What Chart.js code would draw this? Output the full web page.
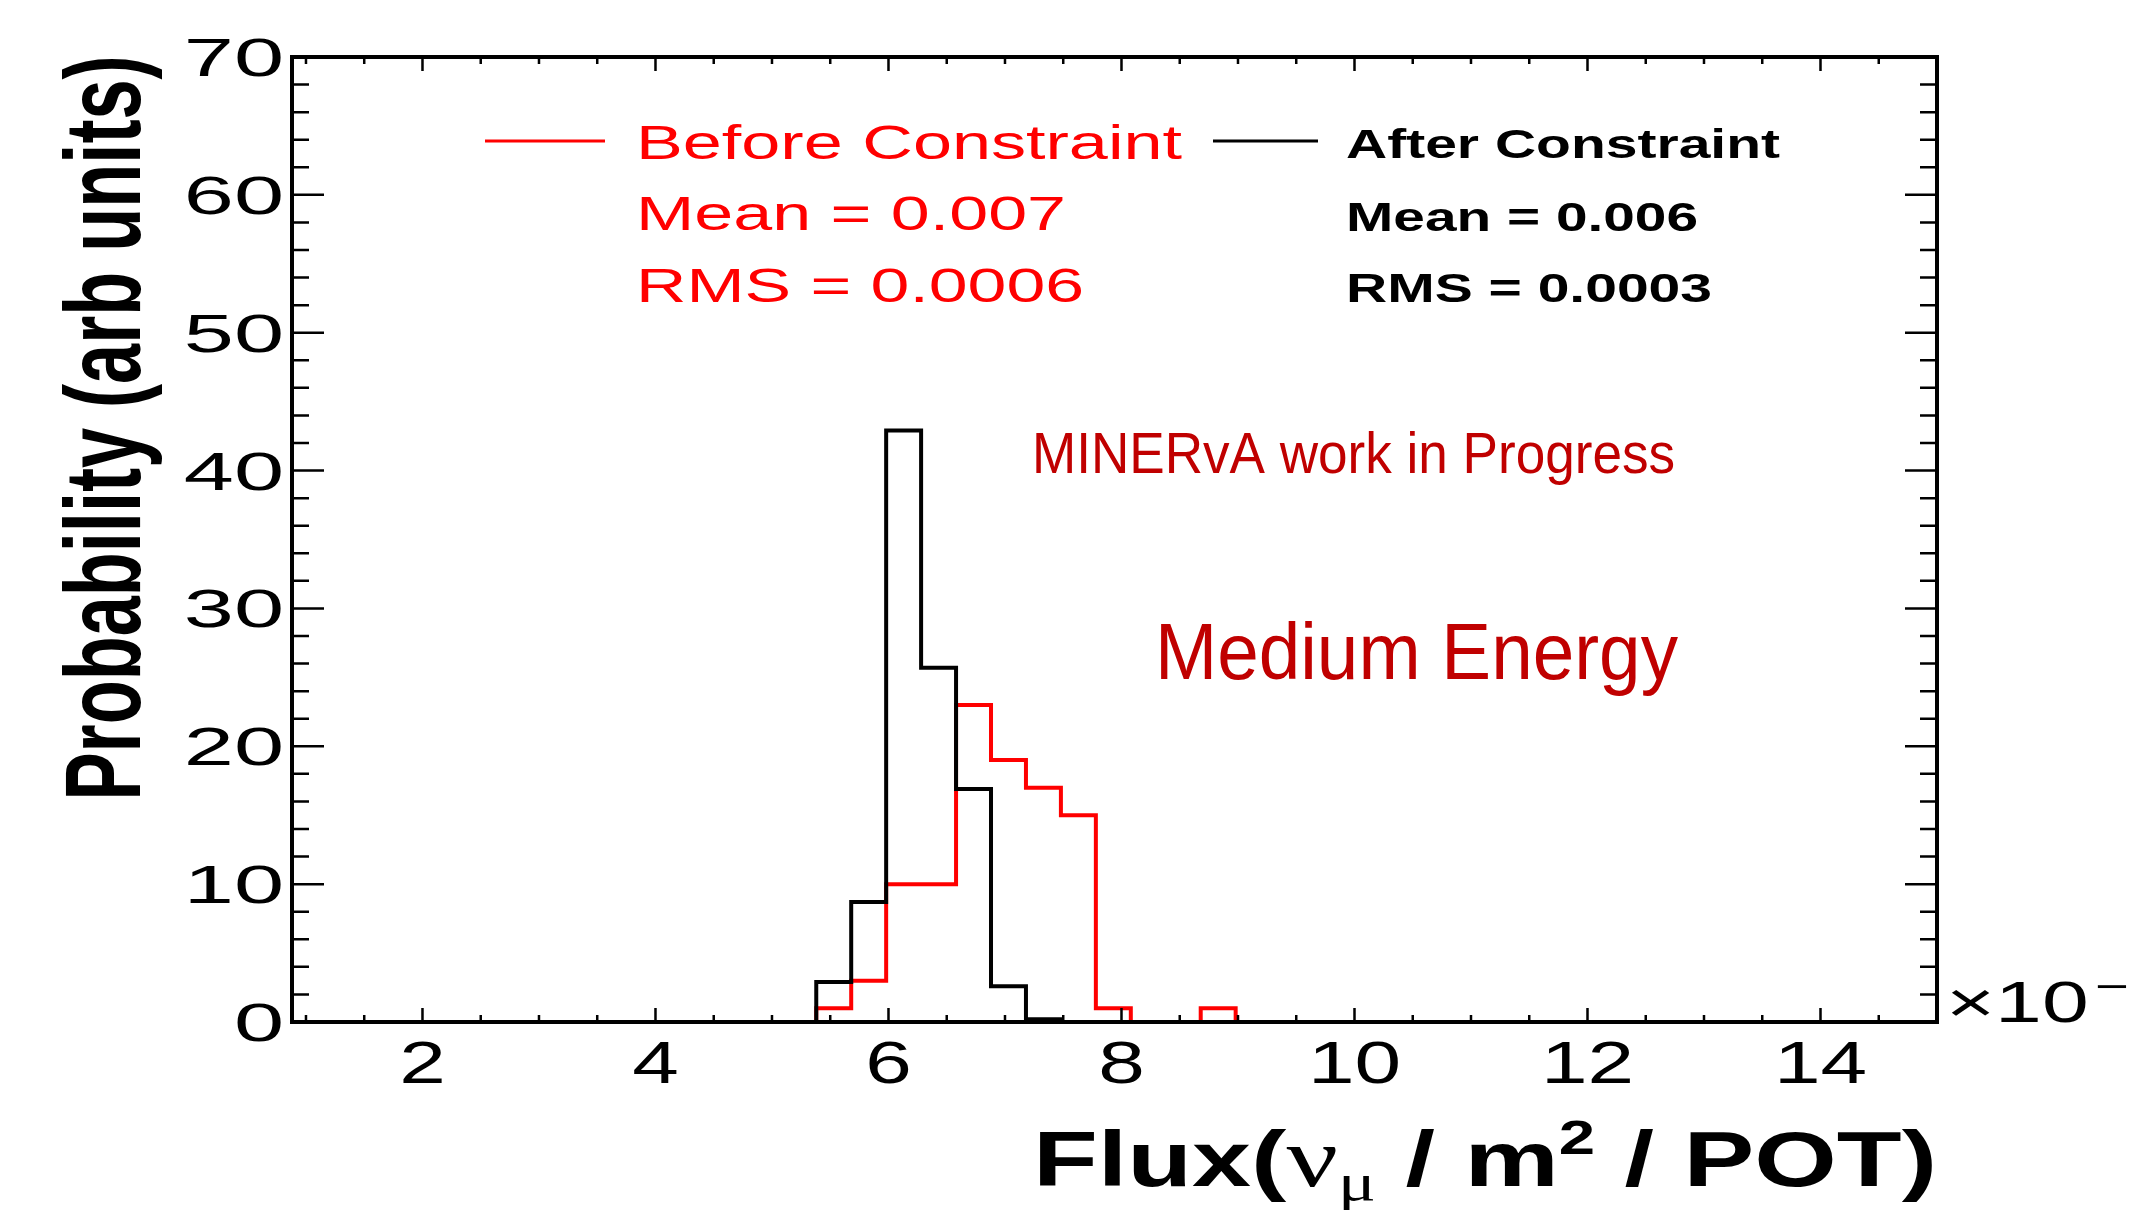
<!DOCTYPE html>
<html>
<head>
<meta charset="utf-8">
<title>Flux before / after constraint</title>
<script src="https://cdn.jsdelivr.net/npm/chart.js@4.4.0/dist/chart.umd.min.js"></script>
<style>
  html, body { margin: 0; padding: 0; background: #fff; }
  canvas { display: block; }
</style>
</head>
<body>
<canvas id="fluxChart" width="2130" height="1210"></canvas>
<script>
// Flux histograms (x10^-3 nu_mu / m^2 / POT), medium energy

// bin edges, the last one closes the last bin
const binEdges = [5.38, 5.68, 5.98, 6.28, 6.58, 6.88, 7.18, 7.48, 7.78, 8.08, 8.38, 8.68, 8.98];
const beforeValues = [1, 3, 10, 10, 23, 19, 17, 15, 1, 0, 0, 1];
const afterValues = [2.9, 8.7, 42.9, 25.7, 16.9, 2.6, 0.2, 0, 0, 0, 0, 0];

const xRange = [0.88, 15];
const yRange = [0, 70];
const xTickLabels = [2, 4, 6, 8, 10, 12, 14];
const yTickLabels = [0, 10, 20, 30, 40, 50, 60, 70];

const legendLabels = ['Before Constraint', 'After Constraint'];
const meanLabels = ['Mean = 0.007', 'Mean = 0.006'];
const rmsLabels = ['RMS = 0.0006', 'RMS = 0.0003'];
const notes = ['MINERvA work in Progress', 'Medium Energy'];

// step outline: each edge carries the value of the bin that starts there
function histPoints(values) {
    const pts = [{ x: binEdges[0], y: 0 }];
    values.forEach((v, i) => pts.push({ x: binEdges[i], y: v }));
    pts.push({ x: binEdges[binEdges.length - 1], y: 0 });
    return pts;
}

// text is stretched sideways like the original picture
function drawText(ctx, str, x, y, font, color, sx, align) {
    ctx.save();
    ctx.font = font;
    ctx.fillStyle = color;
    ctx.textAlign = align || 'left';
    ctx.textBaseline = 'alphabetic';
    ctx.translate(x, y);
    ctx.scale(sx, 1);
    ctx.fillText(str, 0, 0);
    ctx.restore();
}

function fitText(ctx, str, x, y, font, color, width) {
    ctx.font = font;
    const sx = width / ctx.measureText(str).width;
    drawText(ctx, str, x, y, font, color, sx, 'left');
}

const rootFrame = {
    id: 'rootFrame',
    afterDatasetsDraw(chart) {
        const { ctx, chartArea: a, scales: { x, y } } = chart;
        ctx.save();
        ctx.strokeStyle = '#000';
        ctx.lineWidth = 2.5;
        ctx.beginPath();
        for (let v = 1; v < xRange[1]; v += 0.5) {
            const px = x.getPixelForValue(v);
            const len = xTickLabels.includes(v) ? 14 : 7;
            ctx.moveTo(px, a.bottom); ctx.lineTo(px, a.bottom - len);
            ctx.moveTo(px, a.top); ctx.lineTo(px, a.top + len);
        }
        for (let v = 2; v < yRange[1]; v += 2) {
            const py = y.getPixelForValue(v);
            const len = yTickLabels.includes(v) ? 32 : 17;
            ctx.moveTo(a.left, py); ctx.lineTo(a.left + len, py);
            ctx.moveTo(a.right, py); ctx.lineTo(a.right - len, py);
        }
        ctx.stroke();
        ctx.lineWidth = 4;
        ctx.strokeRect(a.left, a.top, a.right - a.left, a.bottom - a.top);
        ctx.restore();
    },
    afterDraw(chart) {
        const { ctx, chartArea: a, scales: { x, y } } = chart;
        const sans = '"Liberation Sans", Arial, sans-serif';
        const serif = '"Liberation Serif", "Times New Roman", serif';

        // tick labels
        yTickLabels.forEach(v => {
            drawText(ctx, String(v), 284, y.getPixelForValue(v) + 19, '53px ' + sans, '#000', 1.7, 'right');
        });
        xTickLabels.forEach(v => {
            drawText(ctx, String(v), x.getPixelForValue(v), 1083, '59px ' + sans, '#000', 1.42, 'center');
        });
        drawText(ctx, '\u00d710', 1946, 1022, '58px ' + sans, '#000', 1.45, 'left');
        drawText(ctx, '\u22123', 2095, 1000, '40px ' + sans, '#000', 1.45, 'left');

        // y title, rotated
        ctx.save();
        ctx.translate(140, 428);
        ctx.rotate(-Math.PI / 2);
        ctx.font = 'bold 107px ' + sans;
        const ytitle = 'Probability (arb units)';
        const ys = 745 / ctx.measureText(ytitle).width;
        ctx.scale(ys, 1);
        ctx.fillStyle = '#000';
        ctx.textAlign = 'center';
        ctx.fillText(ytitle, 0, 0);
        ctx.restore();

        // x title with greek sub/superscripts
        const parts = [
            { t: 'Flux(', f: 'bold 78px ' + sans, dy: 0 },
            { t: '\u03bd', f: '84px ' + serif, dy: 0 },
            { t: '\u03bc', f: '52px ' + serif, dy: 14 },
            { t: ' / m', f: 'bold 78px ' + sans, dy: 0 },
            { t: '2', f: 'bold 48px ' + sans, dy: -32 },
            { t: ' / POT)', f: 'bold 78px ' + sans, dy: 0 }
        ];
        let total = 0;
        parts.forEach(p => { ctx.font = p.f; p.w = ctx.measureText(p.t).width; total += p.w; });
        const xs = 904 / total;
        let cx = a.right - total * xs;
        parts.forEach(p => {
            drawText(ctx, p.t, cx, 1186 + p.dy, p.f, '#000', xs, 'left');
            cx += p.w * xs;
        });

        // legend
        ctx.save();
        ctx.lineWidth = 3;
        ctx.strokeStyle = '#ff0000';
        ctx.beginPath(); ctx.moveTo(485, 141); ctx.lineTo(605, 141); ctx.stroke();
        ctx.strokeStyle = '#000';
        ctx.beginPath(); ctx.moveTo(1213, 141); ctx.lineTo(1318, 141); ctx.stroke();
        ctx.restore();

        fitText(ctx, legendLabels[0], 636, 159, '48px ' + sans, '#ff0000', 546);
        fitText(ctx, meanLabels[0], 636, 230, '48px ' + sans, '#ff0000', 430);
        fitText(ctx, rmsLabels[0], 636, 302, '48px ' + sans, '#ff0000', 448);
        fitText(ctx, legendLabels[1], 1346, 158, 'bold 41px ' + sans, '#000', 434);
        fitText(ctx, meanLabels[1], 1346, 231, 'bold 41px ' + sans, '#000', 352);
        fitText(ctx, rmsLabels[1], 1346, 302, 'bold 41px ' + sans, '#000', 366);

        // notes
        fitText(ctx, notes[0], 1032, 473, '57px ' + sans, '#c00000', 643);
        fitText(ctx, notes[1], 1155, 679, '79px ' + sans, '#c00000', 523);
    }
};

new Chart(document.getElementById('fluxChart'), {
    type: 'line',
    data: {
        datasets: [{
            label: legendLabels[1],
            data: histPoints(afterValues),
            borderColor: '#000000',
            borderWidth: 4,
            stepped: 'before',
            pointRadius: 0,
            fill: false,
            borderJoinStyle: 'miter'
        }, {
            label: legendLabels[0],
            data: histPoints(beforeValues),
            borderColor: '#ff0000',
            borderWidth: 4,
            stepped: 'before',
            pointRadius: 0,
            fill: false,
            borderJoinStyle: 'miter'
        }]
    },
    options: {
        responsive: false,
        animation: false,
        devicePixelRatio: 1,
        events: [],
        layout: { padding: { left: 292, right: 193, top: 57, bottom: 188 } },
        scales: {
            x: { type: 'linear', min: xRange[0], max: xRange[1], display: false },
            y: { type: 'linear', min: yRange[0], max: yRange[1], display: false }
        },
        plugins: {
            legend: { display: false },
            tooltip: { enabled: false }
        }
    },
    plugins: [rootFrame]
});
</script>
</body>
</html>
